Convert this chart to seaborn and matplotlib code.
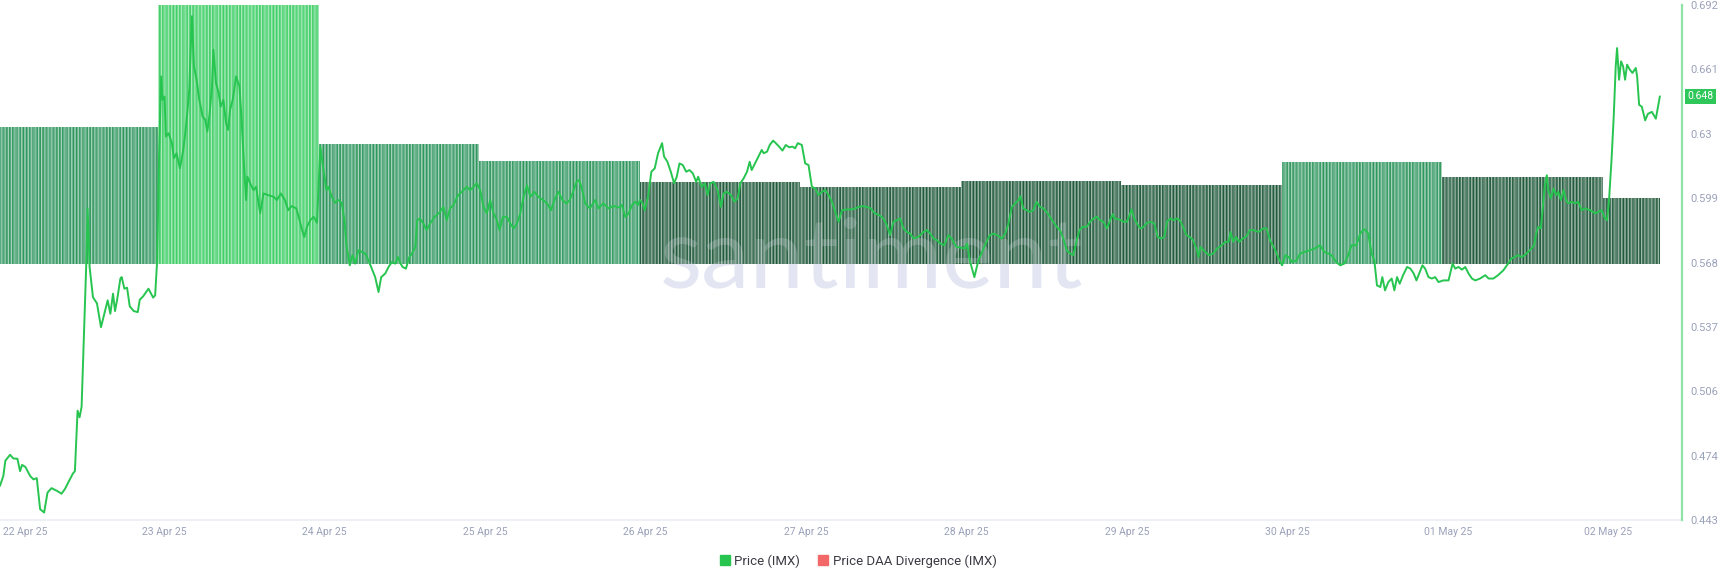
import matplotlib
matplotlib.use('Agg')
import matplotlib.pyplot as plt
import matplotlib.dates as mdates
from matplotlib.lines import Line2D
import numpy as np
import pandas as pd
import seaborn as sns

# ---- data ----
start = pd.Timestamp('2025-04-22')

# hours since 22 Apr 00:00 and IMX price in USD
price_hours = [
    -0.5, 0.0, 0.3, 1.0, 1.5, 2.1, 2.5, 2.8, 3.3, 4.0, 4.5, 5.0, 5.5, 6.1, 6.6, 7.2, 8.0, 8.7, 9.2, 9.7,
    10.4, 10.7, 11.1, 11.4, 11.7, 12.4, 12.6, 12.9, 13.4, 14.0, 14.6, 15.1, 15.6, 16.0, 16.4, 16.7, 17.0,
    17.5, 17.7, 18.1, 18.5, 18.9, 19.5, 20.1, 20.4, 20.9, 21.7, 22.4, 22.7, 23.0, 23.3, 23.6, 23.8, 24.1,
    24.3, 24.7, 25.2, 25.5, 25.9, 26.4, 26.9, 27.2, 27.5, 27.8, 28.2, 28.5, 28.9, 29.3, 29.8, 30.2, 30.5,
    30.8, 31.2, 31.4, 31.8, 32.2, 32.5, 32.9, 33.3, 33.6, 33.9, 34.3, 34.8, 35.3, 35.6, 36.0, 36.3, 36.5,
    36.9, 37.4, 37.8, 38.4, 38.9, 39.6, 40.4, 40.9, 41.5, 42.1, 42.6, 43.1, 43.8, 44.3, 44.6, 45.0, 45.4,
    45.9, 46.4, 46.9, 47.4, 47.8, 48.3, 48.6, 49.1, 49.6, 50.1, 50.6, 51.0, 51.3, 51.8, 52.2, 52.6, 53.1,
    53.6, 54.1, 54.6, 55.1, 55.6, 56.1, 56.5, 57.1, 57.6, 58.1, 58.6, 59.0, 59.4, 59.7, 60.2, 60.7, 61.1,
    61.6, 61.9, 62.3, 62.8, 63.3, 63.8, 64.5, 65.3, 65.8, 66.3, 66.8, 67.3, 68.0, 68.7, 69.3, 69.8, 70.3,
    70.8, 71.3, 71.8, 72.3, 72.8, 73.3, 73.8, 74.2, 74.7, 75.3, 75.8, 76.3, 76.8, 77.3, 77.8, 78.3, 78.8,
    79.4, 80.0, 80.7, 81.3, 81.9, 82.3, 83.0, 83.6, 84.2, 84.7, 85.2, 85.7, 86.1, 86.5, 87.0, 87.7, 88.5,
    89.0, 89.7, 90.5, 91.2, 92.0, 92.5, 93.0, 93.5, 94.0, 94.5, 94.9, 95.2, 95.6, 95.9, 96.4, 96.9, 97.4,
    97.9, 98.3, 98.5, 98.8, 99.3, 99.8, 100.3, 100.7, 101.1, 101.6, 102.1, 102.6, 103.1, 103.6, 103.9,
    104.4, 104.9, 105.3, 105.7, 106.2, 106.8, 107.3, 107.7, 108.2, 108.8, 109.3, 109.8, 110.2, 110.7,
    111.2, 111.6, 111.9, 112.4, 112.9, 113.4, 113.7, 114.2, 114.6, 115.1, 115.5, 116.0, 116.5, 117.0,
    117.5, 118.0, 118.4, 118.8, 119.4, 119.9, 120.4, 120.9, 121.4, 121.9, 122.4, 122.9, 123.4, 123.9,
    124.4, 124.9, 125.4, 126.1, 126.9, 127.4, 127.9, 128.5, 129.1, 129.7, 130.3, 131.0, 131.6, 132.1,
    132.6, 133.1, 133.6, 134.1, 134.6, 135.1, 135.6, 136.1, 136.8, 137.6, 138.1, 138.6, 139.1, 139.6,
    140.1, 140.7, 141.3, 141.8, 142.5, 143.1, 143.8, 144.1, 144.5, 145.2, 145.8, 146.5, 146.9, 147.5,
    148.0, 148.6, 149.3, 149.8, 150.3, 150.8, 151.3, 151.8, 152.1, 152.5, 153.0, 153.5, 154.0, 154.5,
    155.0, 155.5, 156.0, 156.5, 157.0, 157.5, 158.0, 158.5, 159.0, 159.5, 160.0, 160.5, 160.9, 161.4,
    162.0, 162.5, 163.0, 163.5, 164.0, 164.5, 165.0, 165.5, 165.9, 166.2, 166.9, 167.5, 168.0, 168.4,
    168.7, 169.1, 169.5, 170.0, 170.5, 171.0, 171.6, 172.1, 172.6, 173.1, 173.6, 174.0, 174.5, 175.0,
    175.5, 175.9, 176.4, 176.9, 177.4, 177.9, 178.5, 178.7, 179.0, 179.7, 180.3, 180.9, 181.5, 182.2,
    182.7, 183.2, 183.5, 183.9, 184.3, 184.8, 185.3, 185.8, 186.4, 186.9, 187.7, 188.4, 188.9, 189.4,
    190.2, 190.7, 191.2, 191.7, 192.2, 192.7, 193.4, 193.9, 194.6, 195.4, 196.1, 196.9, 197.5, 198.1,
    198.6, 199.3, 199.9, 200.5, 201.1, 201.6, 202.3, 202.9, 203.3, 203.6, 204.1, 204.6, 205.0, 205.4,
    205.9, 206.2, 206.6, 207.1, 207.6, 208.0, 208.4, 208.8, 209.3, 209.9, 210.4, 210.9, 211.3, 211.8,
    212.2, 212.6, 213.1, 213.6, 214.1, 214.6, 215.3, 216.1, 216.7, 217.1, 217.6, 218.1, 218.6, 219.1,
    219.6, 220.1, 220.8, 221.6, 222.1, 222.8, 223.5, 224.3, 225.0, 225.5, 226.0, 226.5, 227.0, 227.5,
    228.0, 228.5, 228.9, 229.2, 229.5, 229.9, 230.2, 230.5, 230.8, 231.0, 231.4, 231.8, 232.2, 232.5,
    232.9, 233.3, 233.7, 234.0, 234.5, 235.0, 235.5, 236.0, 236.5, 237.3, 238.0, 238.5, 239.0, 239.5,
    239.8, 240.1, 240.5, 240.8, 241.1, 241.3, 241.6, 241.9, 242.2, 242.5, 242.8, 243.2, 243.6, 244.1,
    244.3, 244.6, 245.0, 245.5, 245.9, 246.5, 247.1, 247.7,
]
price_usd = [
    0.4599, 0.4647, 0.4720, 0.4749, 0.4731, 0.4730, 0.4670, 0.4700, 0.4690, 0.4647, 0.4630, 0.4636, 0.4486,
    0.4470, 0.4566, 0.4588, 0.4575, 0.4561, 0.4583, 0.4615, 0.4658, 0.4670, 0.4962, 0.4930, 0.4980, 0.5672,
    0.5939, 0.5656, 0.5510, 0.5480, 0.5365, 0.5430, 0.5495, 0.5430, 0.5527, 0.5443, 0.5495, 0.5600, 0.5607,
    0.5551, 0.5556, 0.5466, 0.5443, 0.5438, 0.5498, 0.5514, 0.5551, 0.5508, 0.5519, 0.5688, 0.6220, 0.6576,
    0.6463, 0.6479, 0.6286, 0.6302, 0.6254, 0.6181, 0.6205, 0.6132, 0.6220, 0.6302, 0.6398, 0.6512, 0.6867,
    0.6625, 0.6560, 0.6463, 0.6382, 0.6366, 0.6310, 0.6382, 0.6528, 0.6705, 0.6544, 0.6495, 0.6430, 0.6463,
    0.6350, 0.6318, 0.6415, 0.6463, 0.6576, 0.6528, 0.6382, 0.6140, 0.5979, 0.6092, 0.6060, 0.6027, 0.6043,
    0.5915, 0.6011, 0.6003, 0.5995, 0.5979, 0.6011, 0.5979, 0.5930, 0.5950, 0.5939, 0.5882, 0.5842, 0.5801,
    0.5850, 0.5882, 0.5898, 0.5869, 0.6237, 0.6140, 0.6027, 0.6043, 0.5995, 0.5966, 0.5979, 0.5966, 0.5882,
    0.5761, 0.5664, 0.5713, 0.5672, 0.5737, 0.5729, 0.5721, 0.5688, 0.5648, 0.5607, 0.5535, 0.5607, 0.5624,
    0.5656, 0.5680, 0.5672, 0.5704, 0.5672, 0.5656, 0.5648, 0.5704, 0.5721, 0.5753, 0.5882, 0.5890, 0.5866,
    0.5834, 0.5866, 0.5898, 0.5922, 0.5946, 0.5882, 0.5939, 0.5955, 0.6003, 0.6024, 0.6043, 0.6027, 0.6043,
    0.6060, 0.6027, 0.5946, 0.5915, 0.5979, 0.5915, 0.5882, 0.5834, 0.5898, 0.5898, 0.5866, 0.5842, 0.5866,
    0.5915, 0.5995, 0.6050, 0.5995, 0.6019, 0.5995, 0.5979, 0.5963, 0.5930, 0.5971, 0.6019, 0.5979, 0.5963,
    0.5979, 0.6019, 0.6067, 0.6076, 0.6035, 0.5963, 0.5939, 0.5979, 0.5939, 0.5963, 0.5939, 0.5951, 0.5943,
    0.5955, 0.5898, 0.5915, 0.5955, 0.5971, 0.5955, 0.5979, 0.5963, 0.5930, 0.5995, 0.6116, 0.6132, 0.6205,
    0.6237, 0.6254, 0.6189, 0.6164, 0.6116, 0.6060, 0.6092, 0.6156, 0.6148, 0.6116, 0.6124, 0.6108, 0.6067,
    0.6092, 0.6043, 0.6060, 0.6003, 0.6060, 0.6067, 0.6027, 0.5946, 0.6011, 0.6019, 0.6003, 0.5971, 0.5987,
    0.6060, 0.6084, 0.6116, 0.6164, 0.6124, 0.6156, 0.6189, 0.6221, 0.6205, 0.6213, 0.6245, 0.6266, 0.6254,
    0.6237, 0.6218, 0.6245, 0.6234, 0.6237, 0.6229, 0.6254, 0.6245, 0.6156, 0.6148, 0.6043, 0.6035, 0.6003,
    0.6019, 0.6027, 0.6003, 0.5971, 0.5922, 0.5874, 0.5930, 0.5934, 0.5934, 0.5939, 0.5946, 0.5950, 0.5946,
    0.5939, 0.5915, 0.5906, 0.5890, 0.5858, 0.5810, 0.5874, 0.5882, 0.5890, 0.5842, 0.5825, 0.5817, 0.5793,
    0.5801, 0.5825, 0.5834, 0.5817, 0.5793, 0.5785, 0.5769, 0.5761, 0.5810, 0.5793, 0.5753, 0.5750, 0.5745,
    0.5769, 0.5688, 0.5607, 0.5688, 0.5740, 0.5769, 0.5810, 0.5817, 0.5810, 0.5793, 0.5817, 0.5866, 0.5946,
    0.5963, 0.5979, 0.5998, 0.5939, 0.5930, 0.5922, 0.5930, 0.5971, 0.5946, 0.5939, 0.5922, 0.5898, 0.5874,
    0.5850, 0.5834, 0.5793, 0.5737, 0.5721, 0.5713, 0.5785, 0.5834, 0.5850, 0.5850, 0.5874, 0.5890, 0.5898,
    0.5882, 0.5874, 0.5842, 0.5882, 0.5911, 0.5890, 0.5885, 0.5874, 0.5874, 0.5906, 0.5934, 0.5890, 0.5866,
    0.5842, 0.5850, 0.5869, 0.5874, 0.5866, 0.5801, 0.5793, 0.5801, 0.5874, 0.5890, 0.5882, 0.5890, 0.5882,
    0.5850, 0.5810, 0.5801, 0.5785, 0.5737, 0.5704, 0.5753, 0.5729, 0.5713, 0.5721, 0.5745, 0.5761, 0.5777,
    0.5777, 0.5825, 0.5777, 0.5801, 0.5777, 0.5793, 0.5801, 0.5834, 0.5834, 0.5825, 0.5842, 0.5842, 0.5785,
    0.5737, 0.5697, 0.5664, 0.5713, 0.5704, 0.5680, 0.5688, 0.5721, 0.5729, 0.5737, 0.5745, 0.5761, 0.5729,
    0.5721, 0.5713, 0.5680, 0.5664, 0.5672, 0.5713, 0.5761, 0.5761, 0.5817, 0.5834, 0.5837, 0.5817, 0.5721,
    0.5688, 0.5567, 0.5559, 0.5607, 0.5543, 0.5583, 0.5600, 0.5543, 0.5607, 0.5575, 0.5616, 0.5656, 0.5648,
    0.5624, 0.5591, 0.5632, 0.5664, 0.5648, 0.5607, 0.5600, 0.5607, 0.5583, 0.5591, 0.5591, 0.5672, 0.5648,
    0.5656, 0.5643, 0.5656, 0.5624, 0.5600, 0.5591, 0.5600, 0.5616, 0.5600, 0.5600, 0.5616, 0.5640, 0.5672,
    0.5697, 0.5704, 0.5713, 0.5704, 0.5713, 0.5729, 0.5745, 0.5761, 0.5817, 0.5850, 0.5842, 0.5946, 0.6050,
    0.6099, 0.6027, 0.5987, 0.6035, 0.6003, 0.6019, 0.5979, 0.6027, 0.5979, 0.5963, 0.5971, 0.5963, 0.5971,
    0.5930, 0.5939, 0.5930, 0.5915, 0.5922, 0.5930, 0.5890, 0.5882, 0.5979, 0.6189, 0.6382, 0.6625, 0.6713,
    0.6560, 0.6649, 0.6625, 0.6560, 0.6633, 0.6609, 0.6593, 0.6617, 0.6576, 0.6439, 0.6430, 0.6364, 0.6395,
    0.6405, 0.6372, 0.6480,
]

# daily Price DAA Divergence bars (relative scale, hidden axis)
div_dates = ['2025-04-22', '2025-04-23', '2025-04-24', '2025-04-25', '2025-04-26', '2025-04-27',
             '2025-04-28', '2025-04-29', '2025-04-30', '2025-05-01', '2025-05-02']
div_values = [52.9, 100.0, 46.1, 39.7, 31.4, 29.7, 31.8, 30.2, 39.1, 33.3, 25.4]

tick_dates = pd.date_range('2025-04-22', '2025-05-02', freq='D')

# ---- colours ----
LINE_GREEN = '#27c550'
AXIS_GREEN = '#8fe3a5'
TICK_GREY = '#9aa1ba'
LEGEND_RED = '#f26868'
MARK = '#e3e6f2'

sns.set_style('white')
plt.rcParams['font.family'] = ['Roboto', 'DejaVu Sans']
plt.rcParams['hatch.linewidth'] = 0.7

fig = plt.figure(figsize=(17.24, 5.84), dpi=100)
ax = fig.add_axes([0.0, 0.1096, 0.9756, 0.8818])
ax_price = ax.twinx()

price = pd.DataFrame({
    'time': start + pd.to_timedelta(price_hours, unit='h'),
    'price': price_usd,
})
t_end = price['time'].iloc[-1]

# ---- divergence bars ----
bar_shift = pd.Timedelta(minutes=52)
d = pd.to_datetime(div_dates)
lefts = d - bar_shift
rights = list(d[1:] - bar_shift) + [t_end]
for left, right, v in zip(lefts, rights, div_values):
    if v >= 80:
        base, stripe = '#66d985', '#3fcd66'
    elif v >= 35:
        base, stripe = '#5fae86', '#2a9457'
    else:
        base, stripe = '#53806a', '#1c5534'
    x0 = mdates.date2num(left)
    w = mdates.date2num(right) - x0
    ax.bar(x0, v, width=w, align='edge', color=base, edgecolor=stripe,
           hatch='||||||', linewidth=0, zorder=1)
    ax.bar(x0, v, width=w, align='edge', color='none', edgecolor='#ffffff',
           hatch='|||||', linewidth=0, alpha=0.55, zorder=1.1)

ax.set_ylim(-99.2, 100)
ax.set_yticks([])

# watermark: solid behind the bars, faint on top of them
for z, a in ((0.5, 1.0), (2, 0.22)):
    ax.text(0.518, 0.452, 'santiment', transform=ax.transAxes, ha='center', va='baseline',
            fontsize=70, family=['Lato', 'DejaVu Sans'], color=MARK, alpha=a, zorder=z)

# ---- price line ----
sns.lineplot(data=price, x='time', y='price', ax=ax_price, color=LINE_GREEN, linewidth=1.4,
             zorder=3)

ymin, ymax = 0.4434, 0.6921
ax_price.set_ylim(ymin, ymax)
yt = np.linspace(ymin, ymax, 9)
ax_price.set_yticks(yt)
ax_price.set_yticklabels([f'{v:.3f}'.rstrip('0') for v in yt])
ax_price.set_ylabel('')
ax_price.set_xlabel('')
ax_price.tick_params(axis='y', length=0, pad=6, labelsize=8, labelcolor=TICK_GREY)

# last value badge
last = price['price'].iloc[-1]
ax_price.annotate(f'{last:.3f}', xy=(1, last), xycoords=('axes fraction', 'data'),
                  xytext=(4, 0), textcoords='offset points', ha='left', va='center',
                  fontsize=7.5, color='white',
                  bbox=dict(boxstyle='square,pad=0.25', fc='#2fc65a', ec='none'))

# ---- x axis ----
ax.set_xlim(start - pd.Timedelta(hours=0.5), start + pd.Timedelta(hours=251.0))
ax.set_xticks(mdates.date2num(tick_dates))
ax.set_xticklabels([t.strftime('%d %b %y') for t in tick_dates])
ax.tick_params(axis='x', length=0, pad=5, labelsize=7.5, labelcolor=TICK_GREY)
ax.get_xticklabels()[0].set_ha('left')

for a in (ax, ax_price):
    for s in ('top', 'left', 'right', 'bottom'):
        a.spines[s].set_visible(False)
ax.spines['bottom'].set_visible(True)
ax.spines['bottom'].set_color('#eceef5')
ax.spines['bottom'].set_linewidth(1.2)
ax_price.spines['right'].set_visible(True)
ax_price.spines['right'].set_color(AXIS_GREEN)
ax_price.spines['right'].set_linewidth(1.6)

# ---- legend ----
handles = [
    Line2D([], [], marker='s', linestyle='none', color=LINE_GREEN, markersize=6.5),
    Line2D([], [], marker='s', linestyle='none', color=LEGEND_RED, markersize=6.5),
]
fig.legend(handles, ['Price (IMX)', 'Price DAA Divergence (IMX)'], loc='center',
           bbox_to_anchor=(0.498, 0.0394), ncol=2, frameon=False, fontsize=9.5,
           handlelength=0.7, handletextpad=0.4, columnspacing=1.4, labelcolor='#3b3b44')

fig.savefig('out.png', dpi=100)
